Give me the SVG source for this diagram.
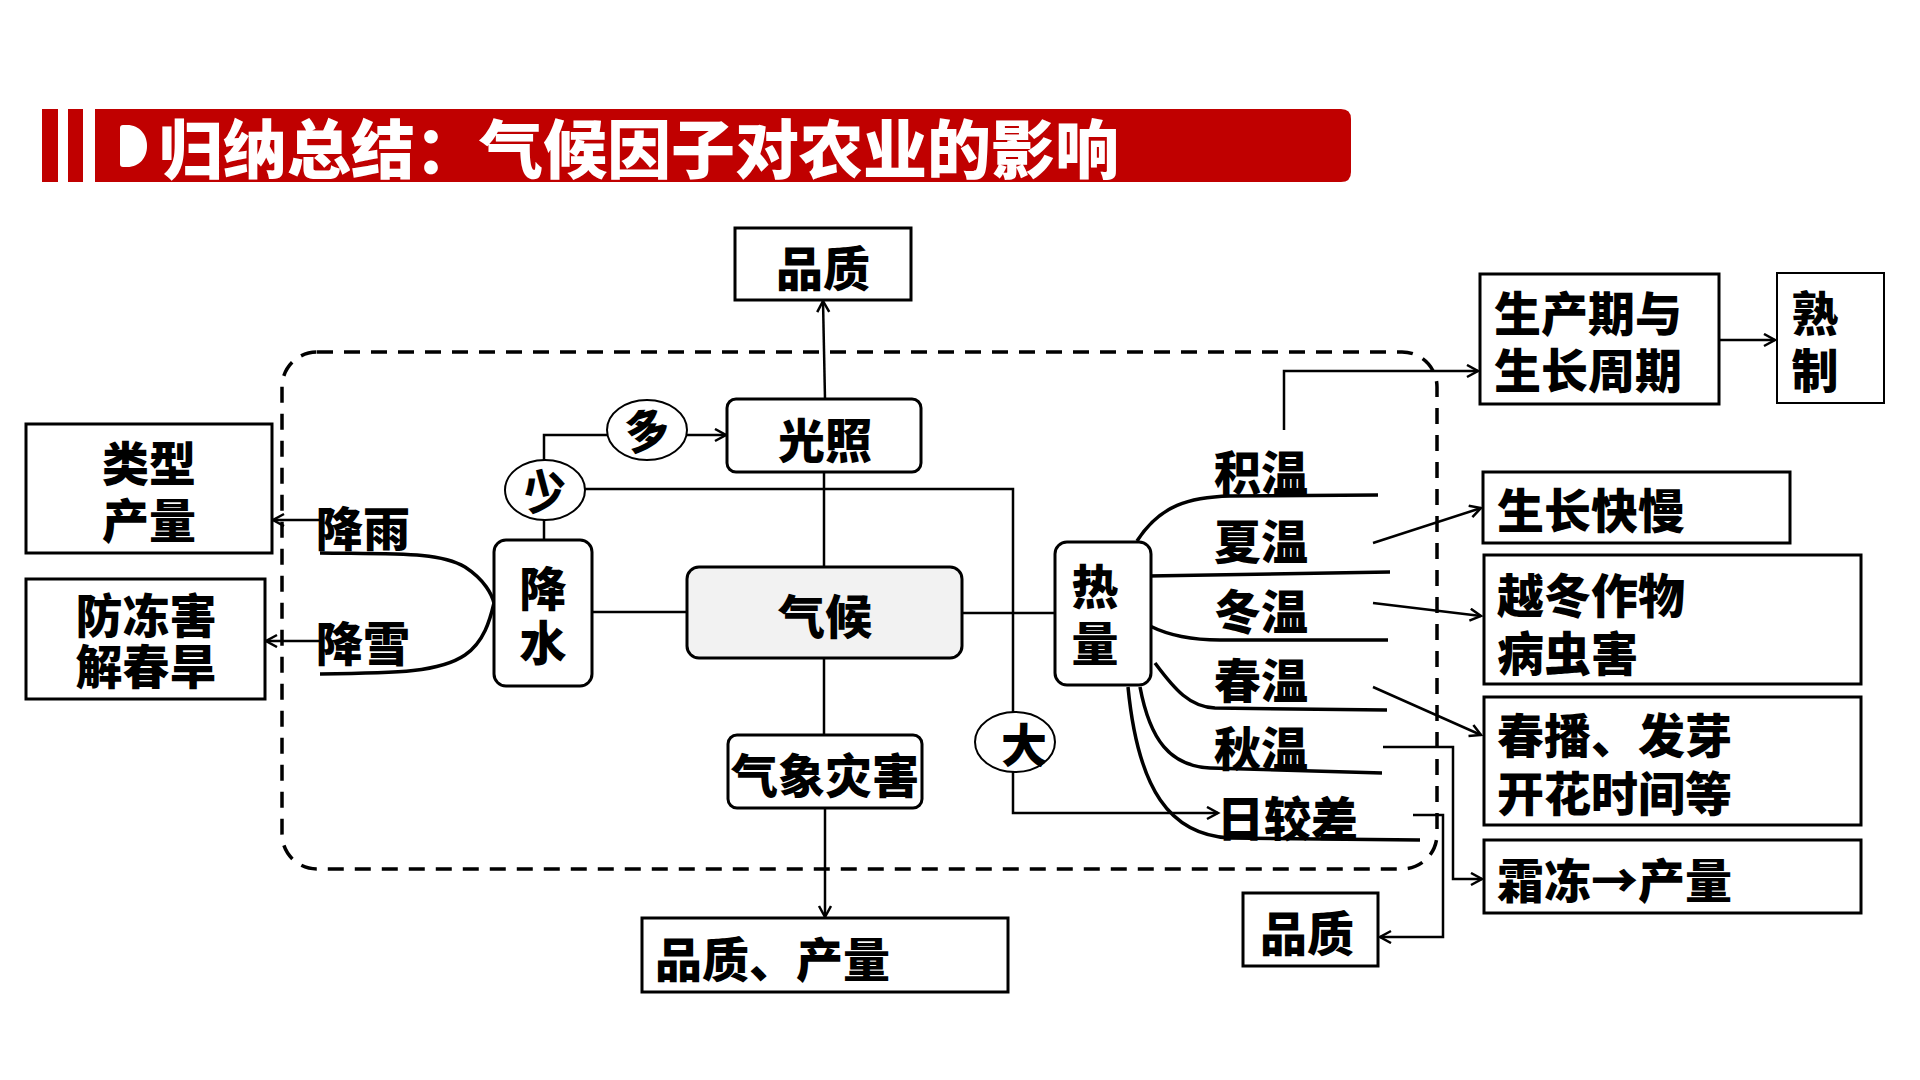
<svg xmlns="http://www.w3.org/2000/svg" width="1920" height="1080" viewBox="0 0 1920 1080">
<defs>
<marker id="arr" markerUnits="userSpaceOnUse" markerWidth="16" markerHeight="16" refX="12" refY="7" orient="auto">
<path d="M1,1 L12,7 L1,13" fill="none" stroke="#000" stroke-width="2.5"/>
</marker>
<style>
text{font-family:"Noto Sans CJK SC","Noto Sans",sans-serif;font-weight:900;fill:#000;font-size:47px}
.box{fill:#fff;stroke:#000;stroke-width:3}
.ell{fill:#fff;stroke:#000;stroke-width:2}
.ln{fill:none;stroke:#000;stroke-width:2.5}
.cv{fill:none;stroke:#000;stroke-width:3.5}
.mid{text-anchor:middle}
.title{fill:#fff;font-size:64px}
</style>
</defs>
<rect width="1920" height="1080" fill="#fff"/>

<g id="title">
<rect x="42" y="109" width="16" height="73" fill="#C00000"/>
<rect x="68" y="109" width="15" height="73" fill="#C00000"/>
<path d="M95,109 H1341 Q1351,109 1351,119 V172 Q1351,182 1341,182 H95 Z" fill="#C00000"/>
<path d="M123,125 H127 C140,125 147,135 147,146 C147,157 140,167 127,167 H123 Q120,167 120,164 V128 Q120,125 123,125 Z" fill="#fff"/>
<text class="title" x="159" y="173">归纳总结：气候因子对农业的影响</text>
</g>

<rect x="282" y="352" width="1155" height="517" rx="35" ry="35" fill="none" stroke="#000" stroke-width="3.5" stroke-dasharray="16 11"/>

<g id="connectors">
<path class="ln" d="M825,399 L823,301" marker-end="url(#arr)"/>
<path class="ln" d="M824,472 L824,567"/>
<path class="ln" d="M824,658 L824,735"/>
<path class="ln" d="M825,808 L825,917" marker-end="url(#arr)"/>
<path class="ln" d="M592,612 L687,612"/>
<path class="ln" d="M962,613 L1055,613"/>
<path class="ln" d="M544,460 L544,435 L607,435"/>
<path class="ln" d="M687,435 L726,435" marker-end="url(#arr)"/>
<path class="ln" d="M585,489 L1013,489 L1013,712"/>
<path class="ln" d="M1013,772 L1013,813 L1218,813" marker-end="url(#arr)"/>
<path class="ln" d="M544,520 L544,540"/>
<path class="ln" d="M320,520 L273,520" marker-end="url(#arr)"/>
<path class="ln" d="M320,641 L266,641" marker-end="url(#arr)"/>
<path class="cv" d="M320,553 C400,554 440,552 465,567 C485,580 492,595 494,603"/>
<path class="cv" d="M320,674 C400,673 440,672 465,655 C484,642 490,620 494,603"/>
<path class="cv" d="M1137,541 C1160,505 1190,497 1230,496 L1378,495"/>
<path class="cv" d="M1148,576 L1390,572"/>
<path class="cv" d="M1150,626 C1170,636 1195,640 1220,640 L1388,640"/>
<path class="cv" d="M1155,663 C1175,690 1190,707 1215,708 L1387,710"/>
<path class="cv" d="M1140,687 C1150,740 1170,766 1210,768 L1382,773"/>
<path class="cv" d="M1128,687 C1138,790 1170,835 1230,838 L1420,840"/>
<path class="ln" d="M1284,430 L1284,371 L1478,371" marker-end="url(#arr)"/>
<path class="ln" d="M1719,340 L1775,340" marker-end="url(#arr)"/>
<path class="ln" d="M1373,543 L1481,508" marker-end="url(#arr)"/>
<path class="ln" d="M1373,603 L1481,616" marker-end="url(#arr)"/>
<path class="ln" d="M1373,687 L1481,735" marker-end="url(#arr)"/>
<path class="ln" d="M1383,747 L1453,747 L1453,879 L1482,879" marker-end="url(#arr)"/>
<path class="ln" d="M1413,815 L1443,815 L1443,937 L1380,937" marker-end="url(#arr)"/>
</g>

<g id="n-quality-top"><rect class="box" x="735" y="228" width="176" height="72"/><text class="mid" x="823" y="286">品质</text></g>
<g id="n-light"><rect class="box" x="727" y="399" width="194" height="73" rx="9"/><text class="mid" x="825" y="458">光照</text></g>
<g id="n-climate"><rect class="box" x="687" y="567" width="275" height="91" rx="12" style="fill:#f2f2f2"/><text class="mid" x="825" y="634">气候</text></g>
<g id="n-disaster"><rect class="box" x="728" y="735" width="194" height="73" rx="9"/><text class="mid" x="825" y="793">气象灾害</text></g>
<g id="n-quality-yield"><rect class="box" x="642" y="918" width="366" height="74"/><text x="655" y="977">品质、产量</text></g>
<g id="n-precip"><rect class="box" x="494" y="540" width="98" height="146" rx="12"/><text class="mid" x="543" y="606">降</text><text class="mid" x="543" y="660">水</text></g>
<g id="n-heat"><rect class="box" x="1055" y="542" width="96" height="143" rx="12"/><text class="mid" x="1095" y="604">热</text><text class="mid" x="1095" y="661">量</text></g>
<g id="n-type"><rect class="box" x="26" y="424" width="246" height="129"/><text class="mid" x="149" y="481">类型</text><text class="mid" x="149" y="538">产量</text></g>
<g id="n-frost"><rect class="box" x="26" y="579" width="239" height="120"/><text class="mid" x="146" y="633">防冻害</text><text class="mid" x="146" y="684">解春旱</text></g>
<g id="n-rain"><text x="316" y="546">降雨</text></g>
<g id="n-snow"><text x="316" y="661">降雪</text></g>
<g id="n-more"><ellipse class="ell" cx="647" cy="430" rx="40" ry="30"/><text class="mid" x="647" y="446" transform="rotate(-15 647 430)" style="font-size:44px">多</text></g>
<g id="n-less"><ellipse class="ell" cx="545" cy="490" rx="40" ry="30"/><text class="mid" x="545" y="506" transform="rotate(-15 545 490)" style="font-size:44px">少</text></g>
<g id="n-big"><ellipse class="ell" cx="1015" cy="742" rx="40" ry="30"/><text class="mid" x="1024" y="762" style="font-size:46px">大</text></g>
<g id="n-acc"><text x="1214" y="490">积温</text></g>
<g id="n-summer"><text x="1214" y="559">夏温</text></g>
<g id="n-winter"><text x="1214" y="629">冬温</text></g>
<g id="n-spring"><text x="1214" y="698">春温</text></g>
<g id="n-autumn"><text x="1214" y="766">秋温</text></g>
<g id="n-diurnal"><text x="1217" y="836">日较差</text></g>
<g id="n-period"><rect class="box" x="1480" y="274" width="239" height="130"/><text x="1494" y="331">生产期与</text><text x="1494" y="388">生长周期</text></g>
<g id="n-cropping"><rect class="box" x="1777" y="273" width="107" height="130" style="stroke-width:2"/><text class="mid" x="1815" y="331">熟</text><text class="mid" x="1815" y="388">制</text></g>
<g id="n-growth"><rect class="box" x="1483" y="472" width="307" height="71"/><text x="1497" y="528">生长快慢</text></g>
<g id="n-overwinter"><rect class="box" x="1484" y="555" width="377" height="129"/><text x="1497" y="613">越冬作物</text><text x="1497" y="671">病虫害</text></g>
<g id="n-sowing"><rect class="box" x="1484" y="697" width="377" height="128"/><text x="1497" y="753">春播、发芽</text><text x="1497" y="811">开花时间等</text></g>
<g id="n-frostyield"><rect class="box" x="1484" y="840" width="377" height="73"/><text x="1497" y="898">霜冻→产量</text></g>
<g id="n-quality-small"><rect class="box" x="1243" y="893" width="135" height="73"/><text class="mid" x="1307" y="951">品质</text></g>
</svg>
